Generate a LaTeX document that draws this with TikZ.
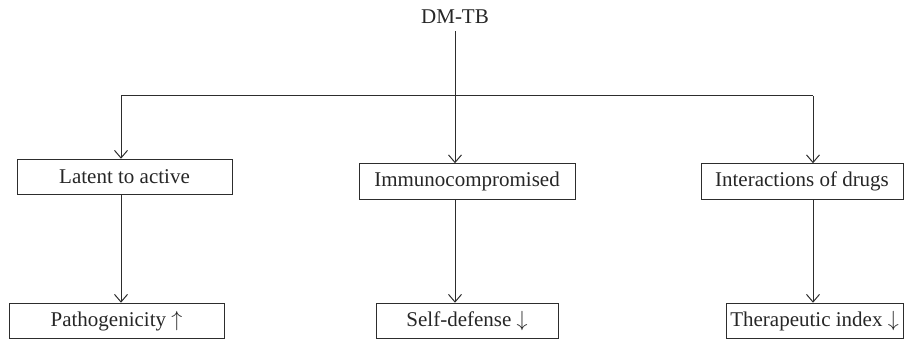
\documentclass[tikz,border=0pt]{standalone}
\usepackage{fontspec}
\setmainfont{Liberation Serif}
\usepackage{xcolor}
\usetikzlibrary{shapes,arrows,arrows.meta}
\definecolor{linegray}{RGB}{45,45,45}

\begin{document}
\begin{tikzpicture}[x=0.5pt, y=-0.5pt, >={Straight Barb[length=3.8pt, width=6.5pt]}, line width=0.5pt,
  font=\fontsize{10.5}{12}\selectfont]
\tikzset{box/.style={draw=linegray, text=black!85, inner sep=0pt, minimum height=17.75pt},
  link/.style={draw=linegray, ->}}
\useasboundingbox (0,0) rectangle (904,340);
% top
\node[text=black!85] (dmtb) at (455,17) {DM-TB};
% middle row
\node[box, minimum width=107.5pt] (latent) at (124.5,177) {Latent to active};
\node[box, minimum width=108pt] (immuno) at (467,181.5) {Immunocompromised};
\node[box, minimum width=101pt] (inter) at (802,181.5) {Interactions of drugs};
% bottom row
\node[box, minimum width=107.5pt] (patho) at (116.5,321) {Pathogenicity $\uparrow$};
\node[box, minimum width=91pt] (self) at (467,321) {Self-defense $\downarrow$};
\node[box, minimum width=88.5pt] (thera) at (814.5,321) {Therapeutic index $\downarrow$};
% columns and bar
\coordinate (col1) at (121,0);
\coordinate (col3) at (813,0);
\coordinate (bar) at (455,96);
\draw[linegray] (col1 |- bar) -- (col3 |- bar);
\draw[link] (dmtb.south) -- (dmtb.south |- immuno.north);
\draw[link] (col1 |- bar) -- (col1 |- latent.north);
\draw[link] (col3 |- bar) -- (col3 |- inter.north);
\draw[link] (col1 |- latent.south) -- (col1 |- patho.north);
\draw[link] (dmtb |- immuno.south) -- (dmtb |- self.north);
\draw[link] (col3 |- inter.south) -- (col3 |- thera.north);
\end{tikzpicture}
\end{document}
